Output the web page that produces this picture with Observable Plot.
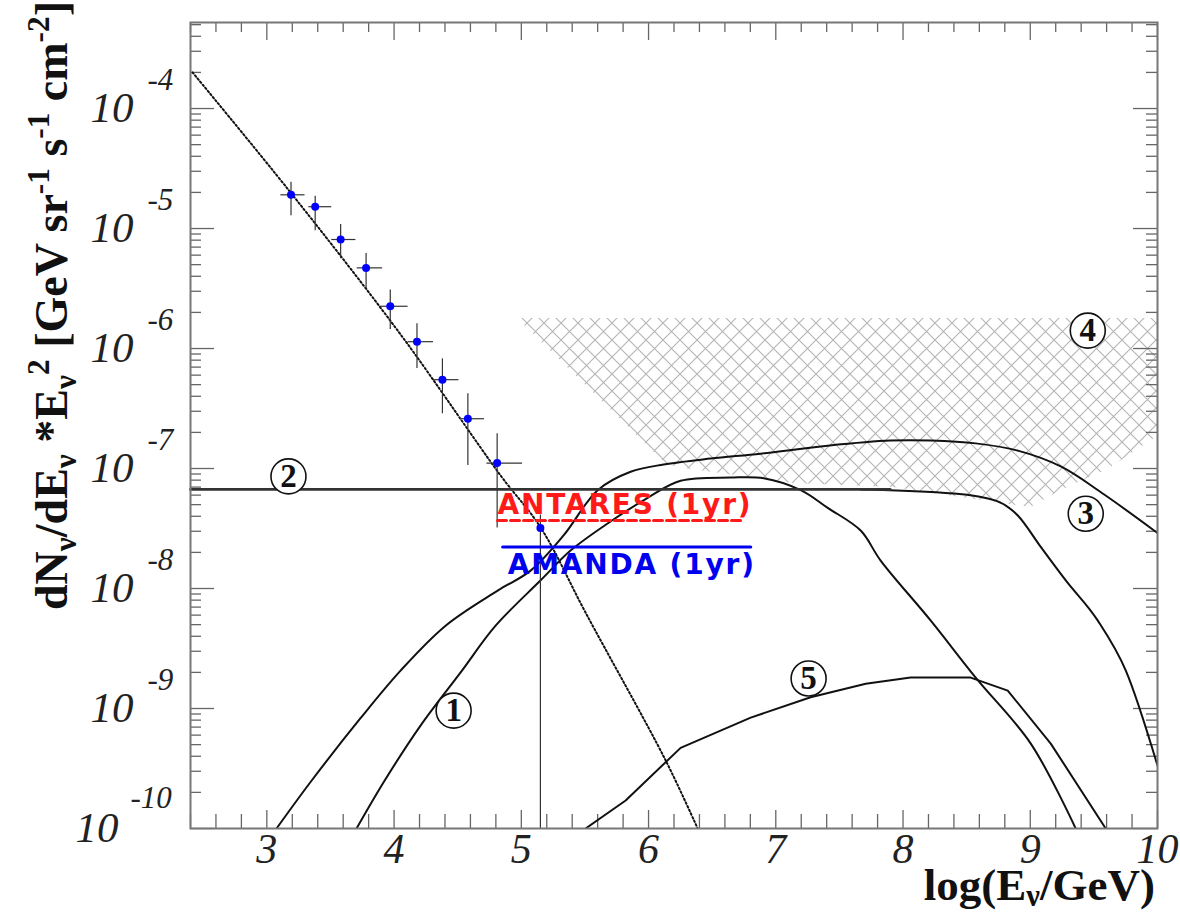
<!DOCTYPE html>
<html>
<head>
<meta charset="utf-8">
<script src="https://cdn.jsdelivr.net/npm/d3@7"></script>
<script src="https://cdn.jsdelivr.net/npm/@observablehq/plot@0.6"></script>
<style>
  body { margin: 0; background: #fff; }
  #chart { width: 1180px; height: 915px; }
</style>
</head>
<body>
<div id="chart"></div>
<script>
// ---- Measured atmospheric neutrino points: log10(E/GeV) and E^2 dN/dE ----
const pointLogE      = [3.19, 3.38, 3.58, 3.78, 3.97, 4.18, 4.38, 4.58, 4.81, 5.15];
const pointFlux      = [1.91e-5, 1.52e-5, 8.1e-6, 4.7e-6, 2.25e-6, 1.14e-6, 5.5e-7, 2.6e-7, 1.11e-7, 3.2e-8];
const pointLogELow   = [3.11, 3.33, 3.51, 3.71, 3.89, 4.11, 4.31, 4.52, 4.73, 5.15];
const pointLogEHigh  = [3.30, 3.51, 3.70, 3.91, 4.11, 4.31, 4.51, 4.71, 5.01, 5.15];
const pointFluxLow   = [1.28e-5, 9.6e-6, 5.6e-6, 3.15e-6, 1.44e-6, 6.8e-7, 2.86e-7, 1.06e-7, 3.2e-8, 1e-10];
const pointFluxHigh  = [2.43e-5, 1.86e-5, 1.08e-5, 6.2e-6, 3.08e-6, 1.61e-6, 8.2e-7, 4.2e-7, 1.95e-7, 4.1e-8];

// ---- Atmospheric spectrum (dotted) ----
const atmLogE = [2.416, 3.186, 4.051, 4.837, 5.152, 5.505, 6.134, 6.386];
const atmFlux = [2.0e-4, 2.0e-5, 1.31e-6, 8.75e-8, 3.22e-8, 6.3e-9, 3.7e-10, 1e-10];

// ---- Broad model spectrum (peaks near 10^8 GeV) ----
const broadLogE = [3.076, 3.351, 3.736, 4.051, 4.405, 4.814, 5.073, 5.332, 5.6, 5.859, 6.119, 6.488, 6.881, 7.408, 7.903, 8.218, 8.571, 8.902, 9.24, 9.578, 10.0];
const broadFlux = [1e-10, 2.5e-10, 8.3e-10, 2.07e-9, 4.9e-9, 9.6e-9, 1.41e-8, 2.77e-8, 6.6e-8, 9.4e-8, 1.08e-7, 1.21e-7, 1.33e-7, 1.55e-7, 1.71e-7, 1.71e-7, 1.62e-7, 1.41e-7, 1.04e-7, 6.1e-8, 2.9e-8];

// ---- Narrow model spectrum (curve 1) ----
const narrowLogE = [3.705, 3.925, 4.208, 4.523, 4.798, 5.152, 5.387, 5.678, 5.993, 6.252, 6.645, 6.905, 7.196, 7.408, 7.667, 7.824, 8.218, 8.571, 9.004, 9.357];
const narrowFlux = [1e-10, 2.5e-10, 7.2e-10, 2.0e-9, 4.9e-9, 1.17e-8, 2.07e-8, 3.48e-8, 5.7e-8, 7.9e-8, 8.4e-8, 8.3e-8, 6.6e-8, 4.7e-8, 3.04e-8, 1.71e-8, 5.4e-9, 1.81e-9, 5.1e-10, 1e-10];

// ---- Curve 5 ----
const gzkLogE = [5.505, 5.82, 6.252, 6.803, 7.274, 7.707, 8.06, 8.532, 8.823, 9.161, 9.593];
const gzkFlux = [1e-10, 1.71e-10, 4.7e-10, 8.4e-10, 1.24e-9, 1.61e-9, 1.81e-9, 1.81e-9, 1.41e-9, 5.1e-10, 1e-10];

// ---- Bound 2 (flat) and its high-energy roll-off 3 ----
const boundLogE = [2.4, 7.9];
const boundFlux = [6.7e-8, 6.7e-8];
const rolloffLogE = [7.667, 8.398, 8.729, 8.902, 9.075, 9.279, 9.531, 9.751, 10.0];
const rolloffFlux = [6.7e-8, 6.2e-8, 5.4e-8, 4.06e-8, 2.28e-8, 1.17e-8, 5.4e-9, 2.07e-9, 3.35e-10];

// ---- Hatched region 4 ----
const hatchLogE  = [4.971, 6.134, 6.229, 7.14, 7.927, 8.453, 9.004, 9.24, 9.609, 10.0];
const hatchUpper = [1.78e-6, 1.78e-6, 1.78e-6, 1.78e-6, 1.78e-6, 1.78e-6, 1.78e-6, 1.78e-6, 1.78e-6, 1.78e-6];
const hatchLower = [1.78e-6, 1.10e-7, 1.02e-7, 7.5e-8, 6.95e-8, 5.73e-8, 4.73e-8, 6.56e-8, 9.8e-8, 1.85e-7];

// ---- One-year sensitivities ----
const antaresLogE = [4.813, 6.724];
const antaresFlux = [3.69e-8, 3.69e-8];
const amandaLogE  = [4.853, 6.803];
const amandaFlux  = [2.22e-8, 2.22e-8];

// ---- Curve labels ----
const labelText = ["1", "2", "3", "4", "5"];
const labelLogE = [4.468, 3.170, 9.436, 9.452, 7.258];
const labelFlux = [9.6e-10, 8.6e-8, 4.2e-8, 1.41e-6, 1.78e-9];

// ---- Axis ticks ----
const xTickValues = [3, 4, 5, 6, 7, 8, 9, 10];
const yDecades = [-10, -9, -8, -7, -6, -5, -4];

const W = 1180, H = 915;
const mL = 190, mR = 23, mT = 22, mB = 87;
const innerW = W - mL - mR, innerH = H - mT - mB;
const yMax = Math.pow(10, -3.283);
const tickColor = "#666";
const serif = "'Liberation Serif', 'DejaVu Serif', serif";
const sans = "'DejaVu Sans', Verdana, sans-serif";

const idx = n => d3.range(n);
const xMinor = d3.range(2.4, 10.0001, 0.2).map(v => +v.toFixed(1)).filter(v => !Number.isInteger(v));
const yMinor = [];
for (let d = -10; d <= -4; d++) for (let k = 2; k <= 9; k++) { const v = k * Math.pow(10, d); if (v < yMax) yMinor.push(v); }
const yMajor = yDecades.map(d => Math.pow(10, d));
const decadesNarrow = yDecades.filter(d => d > -10);
const decadesWide = yDecades.filter(d => d <= -10);

const curve = (xs, ys) => idx(xs.length).map(i => ({x: xs[i], y: ys[i]}));
const tickFont = {fontFamily: serif, fontStyle: "italic", fill: "#222"};

const chart = Plot.plot({
  width: W, height: H,
  marginLeft: mL, marginRight: mR, marginTop: mT, marginBottom: mB,
  style: {background: "white", overflow: "visible"},
  x: {domain: [2.4, 10], axis: null},
  y: {type: "log", domain: [1e-10, yMax], axis: null},
  marks: [
    // hatched region
    Plot.areaY(idx(hatchLogE.length), {
      x: i => hatchLogE[i], y1: i => hatchUpper[i], y2: i => hatchLower[i],
      fill: "url(#xhatch)", curve: "linear"
    }),
    // ticks, bottom & top
    Plot.tickX(xMinor, {x: d => d, insetTop: innerH - 14, stroke: tickColor, strokeWidth: 1.3}),
    Plot.tickX(xTickValues, {x: d => d, insetTop: innerH - 18, stroke: tickColor, strokeWidth: 1.3}),
    Plot.tickX(xMinor, {x: d => d, insetBottom: innerH - 10, stroke: tickColor, strokeWidth: 1.3}),
    Plot.tickX(xTickValues, {x: d => d, insetBottom: innerH - 18, stroke: tickColor, strokeWidth: 1.3}),
    // ticks, left & right
    Plot.tickY(yMinor, {y: d => d, insetRight: innerW - 11, stroke: tickColor, strokeWidth: 1.3}),
    Plot.tickY(yMajor, {y: d => d, insetRight: innerW - 24, stroke: tickColor, strokeWidth: 1.3}),
    Plot.tickY(yMinor, {y: d => d, insetLeft: innerW - 11, stroke: tickColor, strokeWidth: 1.3}),
    Plot.tickY(yMajor, {y: d => d, insetLeft: innerW - 24, stroke: tickColor, strokeWidth: 1.3}),
    // model curves
    Plot.line(curve(atmLogE, atmFlux), {x: "x", y: "y", stroke: "#111", strokeWidth: 2, strokeDasharray: "1.6,2.4", curve: "catmull-rom", clip: true}),
    Plot.line(curve(broadLogE, broadFlux), {x: "x", y: "y", stroke: "#111", strokeWidth: 2, curve: "catmull-rom", clip: true}),
    Plot.line(curve(narrowLogE, narrowFlux), {x: "x", y: "y", stroke: "#111", strokeWidth: 2, curve: "catmull-rom", clip: true}),
    Plot.line(curve(gzkLogE, gzkFlux), {x: "x", y: "y", stroke: "#111", strokeWidth: 2, curve: "linear", clip: true}),
    Plot.line(curve(rolloffLogE, rolloffFlux), {x: "x", y: "y", stroke: "#111", strokeWidth: 2, curve: "monotone-x", clip: true}),
    Plot.line(curve(boundLogE, boundFlux), {x: "x", y: "y", stroke: "#333", strokeWidth: 2.6}),
    // measured points with error bars
    Plot.ruleX(idx(pointLogE.length), {x: i => pointLogE[i], y1: i => pointFluxLow[i], y2: i => pointFluxHigh[i], stroke: "#333", strokeWidth: 1.2}),
    Plot.ruleY(idx(pointLogE.length), {y: i => pointFlux[i], x1: i => pointLogELow[i], x2: i => pointLogEHigh[i], stroke: "#333", strokeWidth: 1.2}),
    Plot.dot(idx(pointLogE.length), {x: i => pointLogE[i], y: i => pointFlux[i], r: 4, fill: "#0000ff"}),
    // sensitivity lines
    Plot.line(curve(antaresLogE, antaresFlux), {x: "x", y: "y", stroke: "#ff1a1a", strokeWidth: 3, strokeDasharray: "9,4"}),
    Plot.line(curve(amandaLogE, amandaFlux), {x: "x", y: "y", stroke: "#0000ee", strokeWidth: 3}),
    Plot.text(["ANTARES (1yr)"], {x: antaresLogE[0], y: 4.92e-8, text: d => d, textAnchor: "start",
      fill: "#ff1a1a", fontFamily: sans, fontWeight: "bold", fontSize: 28}),
    Plot.text(["AMANDA (1yr)"], {x: amandaLogE[0] + 0.04, y: 1.58e-8, text: d => d, textAnchor: "start",
      fill: "#0000ee", fontFamily: sans, fontWeight: "bold", fontSize: 28}),
    // circled curve labels
    Plot.dot(idx(labelText.length), {x: i => labelLogE[i], y: i => labelFlux[i], r: 17.5, fill: "white", stroke: "#111", strokeWidth: 1.6}),
    Plot.text(idx(labelText.length), {x: i => labelLogE[i], y: i => labelFlux[i], text: i => labelText[i],
      fontFamily: serif, fontWeight: "bold", fontSize: 33, fill: "#111"}),
    // tick labels
    Plot.text(xTickValues, {x: d => d, text: d => String(d), frameAnchor: "bottom", dy: 34, fontSize: 42, ...tickFont}),
    Plot.text(decadesNarrow, {y: d => Math.pow(10, d), text: () => "10", frameAnchor: "left", textAnchor: "end",
      dx: -57, fontSize: 43, ...tickFont}),
    Plot.text(decadesWide, {y: d => Math.pow(10, d), text: () => "10", frameAnchor: "left", textAnchor: "end",
      dx: -72, fontSize: 43, ...tickFont}),
    Plot.text(decadesNarrow, {y: d => Math.pow(10, d), text: d => String(d), frameAnchor: "left", textAnchor: "start",
      dx: -43, dy: -28, fontSize: 31, ...tickFont}),
    Plot.text(decadesWide, {y: d => Math.pow(10, d), text: d => String(d), frameAnchor: "left", textAnchor: "start",
      dx: -60, dy: -30, fontSize: 31, ...tickFont}),
    Plot.frame({stroke: "#777", strokeWidth: 2})
  ]
});

const svg = d3.select(chart);
// Wider tracking for the sensitivity labels
svg.selectAll("text").filter(function() { return this.textContent.includes("(1yr)"); })
  .style("letter-spacing", "1.8px");

// Cross-hatch pattern for region 4
const defs = svg.insert("defs", ":first-child");
const s = 17;
const pat = defs.append("pattern").attr("id", "xhatch").attr("patternUnits", "userSpaceOnUse")
  .attr("width", s).attr("height", s);
pat.append("path").attr("d", `M0,0L${s},${s}M${s},0L0,${s}M${-s/2},${s/2}L0,${s}M${s/2},${-s/2}L${s},0M${s/2},${1.5*s}L${s},${s}M${1.5*s},${s/2}L${s},0`)
  .attr("stroke", "#b4b4b4").attr("stroke-width", 1.1).attr("fill", "none");

// Axis titles with sub- and superscripts
function richText(parent, parts, attrs, subShift, supShift) {
  const t = parent.append("text");
  Object.entries(attrs).forEach(([k, v]) => t.attr(k, v));
  let shift = 0;
  for (const [str, kind] of parts) {
    const target = kind === "sub" ? subShift : kind === "sup" ? supShift : 0;
    const sp = t.append("tspan").text(str).attr("dy", target - shift);
    if (kind) sp.attr("font-size", "0.68em");
    shift = target;
  }
  return t;
}
richText(svg, [["dN"], ["ν", "sub"], ["/dE"], ["ν", "sub"], [" *E"], ["ν", "sub"], ["2", "sup"], [" [GeV sr"], ["-1", "sup"], [" s"], ["-1", "sup"], [" cm"], ["-2", "sup"], ["]"]], {
  transform: "translate(67,610) rotate(-90)", "font-family": serif, "font-weight": "bold",
  "font-size": 46, fill: "#111", "text-anchor": "start"
}, 9, -18);
richText(svg, [["log(E"], ["ν", "sub"], ["/GeV)"]], {
  transform: "translate(1155,900)", "font-family": serif, "font-weight": "bold",
  "font-size": 45, fill: "#111", "text-anchor": "end"
}, 6, -16);

document.getElementById("chart").appendChild(chart);
</script>
</body>
</html>
